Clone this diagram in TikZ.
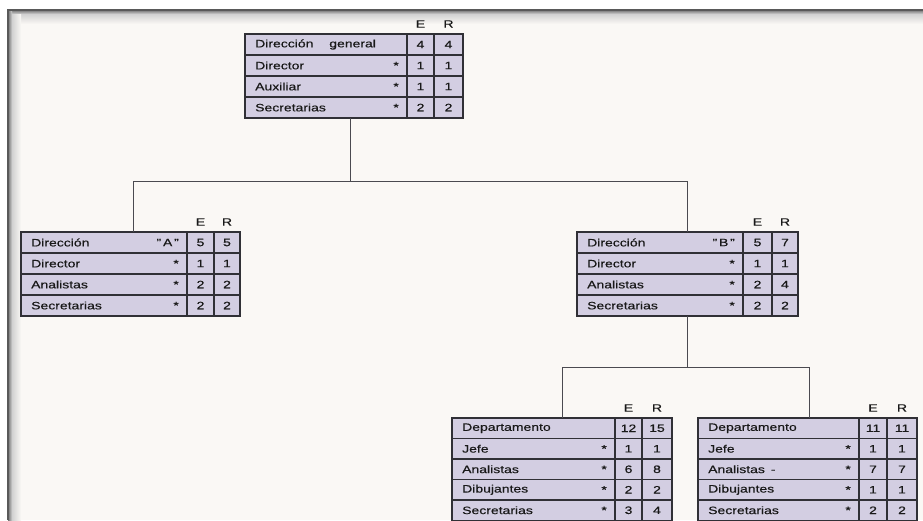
\documentclass[tikz,border=0pt]{standalone}
\usepackage{fontspec}
\setmainfont{Liberation Sans}[FakeStretch=1.3,FakeBold=0.4]
\definecolor{paper}{HTML}{FAF8F5}
\definecolor{cellfill}{HTML}{D3CEE2}
\definecolor{rule}{HTML}{303036}
\definecolor{linkline}{HTML}{4A4A50}
\newcommand\orgfont{\fontsize{10.75}{12}\selectfont}
% \orgtab{name}{left}{top}{label width}{E width}{R width}{row height}{label/mark/E/R, ...}
\newcommand\orgtab[8]{%
  \foreach [count=\i] \lab/\mk/\ev/\rv in {#8} {
    \pgfmathsetmacro\ty{#3+(\i-1)*#7}
    \node[cell, minimum width=#4pt, minimum height=#7pt, anchor=north west] (#1-l\i) at (#2,\ty) {};
    \node[celltext, anchor=west] (#1-t\i) at ([xshift=10pt]#1-l\i.west) {\lab};
    \node[celltext, anchor=east] (#1-m\i) at ([xshift=-8pt]#1-l\i.east) {\mk};
    \node[cell, minimum width=#5pt, minimum height=#7pt, anchor=north west] (#1-e\i) at (#1-l\i.north east) {\ev};
    \node[cell, minimum width=#6pt, minimum height=#7pt, anchor=north west] (#1-r\i) at (#1-e\i.north east) {\rv};
  }
  \node[head] (#1-hE) at ([yshift=10pt]#1-e1.north) {E};
  \node[head] (#1-hR) at ([yshift=10pt]#1-r1.north) {R};
}
\begin{document}
\begin{tikzpicture}[x=1pt,y=-1pt,
  cell/.style={draw=rule, line width=1.4pt, fill=cellfill, rectangle, inner sep=0pt, outer sep=0pt, font=\orgfont, text=black!90},
  celltext/.style={inner sep=0pt, font=\orgfont, text=black!90},
  head/.style={inner sep=0pt, font=\orgfont, text=black!90},
  conn/.style={draw=linkline, line width=0.9pt}]
\useasboundingbox (0,0) rectangle (923,520);

% sheet with its shaded edges
\fill[white] (0,0) rectangle (923,520);
\fill[paper] (8,10) rectangle (923,520);
\shade[top color=black!55, bottom color=black!18] (8,10) rectangle (923,14);
\shade[top color=black!18, bottom color=paper] (8,14) rectangle (923,24);
\shade[left color=black!55, right color=black!18] (8,10) rectangle (12,520);
\shade[left color=black!18, right color=paper] (12,14) rectangle (21,520);
\draw[black!65, line width=1.2pt] (8,520) -- (8,10) -- (923,10);

% boxes
\orgtab{dg}{245}{34}{162}{27}{29}{21}{Dirección\hspace{12pt} general//4/4, Director/*/1/1, Auxiliar/*/1/1, Secretarias/*/2/2}
\orgtab{da}{21}{232}{166}{27}{26}{21}{Dirección/"\,A\,"/5/5, Director/*/1/1, Analistas/*/2/2, Secretarias/*/2/2}
\orgtab{db}{577}{232}{166}{29}{26}{21}{Dirección/"\,B\,"/5/7, Director/*/1/1, Analistas/*/2/4, Secretarias/*/2/2}
\orgtab{dc}{452}{418}{163}{27}{30}{20.5}{Departamento//12/15, Jefe/*/1/1, Analistas/*/6/8, Dibujantes/*/2/2, Secretarias/*/3/4}
\orgtab{dd}{698}{418}{161}{28}{30}{20.5}{Departamento//11/11, Jefe/*/1/1, Analistas\hspace{6pt}-/*/7/7, Dibujantes/*/1/1, Secretarias/*/2/2}

% connectors
\coordinate (j0) at (350,181);
\coordinate (jA) at (133,181);
\coordinate (jB) at (687,181);
\coordinate (jB2) at (687,367);
\coordinate (jC) at (562,367);
\coordinate (jD) at (809,367);
\draw[conn] (dg-l4.south -| j0) -- (j0);
\draw[conn] (da-l1.north -| jA) -- (jA) -- (jB) -- (db-l1.north -| jB);
\draw[conn] (db-l4.south -| jB) -- (jB2);
\draw[conn] (dc-l1.north -| jC) -- (jC) -- (jD) -- (dd-l1.north -| jD);
\end{tikzpicture}
\end{document}
